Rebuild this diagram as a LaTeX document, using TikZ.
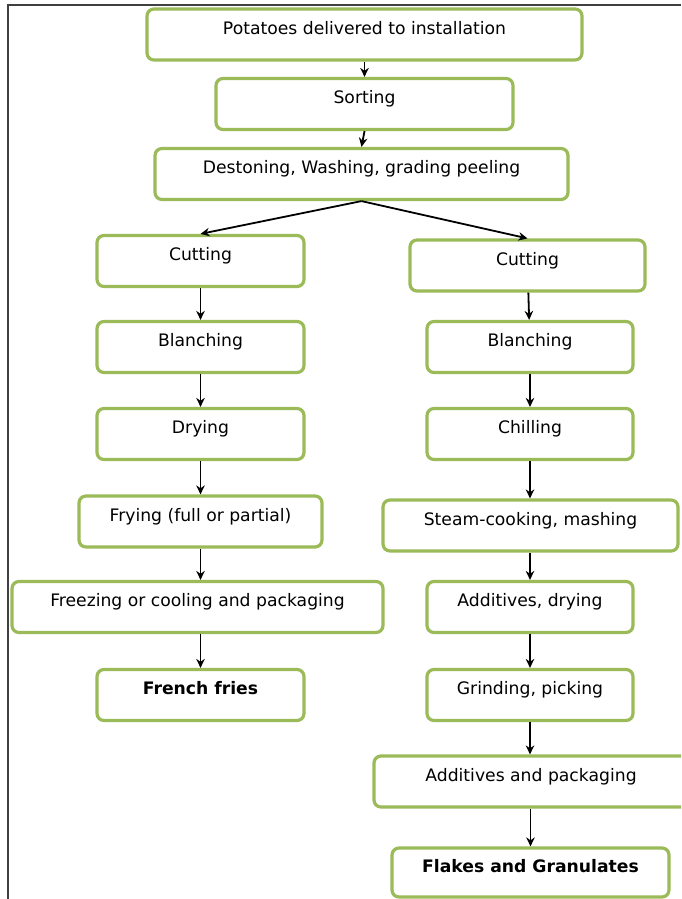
\documentclass[tikz,border=0pt]{standalone}
\usepackage{fontspec}
\setmainfont{DejaVu Sans}
\usetikzlibrary{arrows.meta}
\definecolor{boxgreen}{HTML}{9BBB59}
\definecolor{framegray}{HTML}{404040}
\begin{document}
\begin{tikzpicture}[x=1pt,y=-1pt,
  stepbox/.style={draw=boxgreen, line width=3.2pt, rounded corners=7pt, fill=white,
    minimum height=51pt, inner sep=0pt, text height=12pt, text depth=12.5pt,
    font=\fontsize{17.2}{19}\selectfont},
  flow/.style={-{Stealth[length=9pt,width=8.5pt]}, line width=1.8pt, black}]
\clip (0,0) rectangle (681,899);
\fill[white] (0,0) rectangle (681,899);
\draw[framegray, line width=1.8pt] (8,899) -- (8,5) -- (681,5);
% main trunk
\node[stepbox, minimum width=435pt] (pot) at (364.5,34.5) {Potatoes delivered to installation};
\node[stepbox, minimum width=297pt] (sort) at (364.5,104) {Sorting};
\node[stepbox, minimum width=413pt] (dest) at (361.5,174) {Destoning, Washing, grading peeling};
% left branch
\node[stepbox, minimum width=207pt] (cutL) at (200.5,261) {Cutting};
\node[stepbox, minimum width=207pt] (blaL) at (200.5,347) {Blanching};
\node[stepbox, minimum width=207pt] (dryL) at (200.5,434) {Drying};
\node[stepbox, minimum width=243pt] (fryL) at (200.5,521.5) {Frying (full or partial)};
\node[stepbox, minimum width=371pt] (frzL) at (197.5,607) {Freezing or cooling and packaging};
\node[stepbox, minimum width=207pt] (ffL) at (200.5,695) {\bfseries French fries};
% right branch
\node[stepbox, minimum width=235pt] (cutR) at (527.5,265.5) {Cutting};
\node[stepbox, minimum width=206pt] (blaR) at (530,347) {Blanching};
\node[stepbox, minimum width=206pt] (chiR) at (530,434) {Chilling};
\node[stepbox, minimum width=295pt] (stmR) at (530.5,525.5) {Steam-cooking, mashing};
\node[stepbox, minimum width=206pt] (addR) at (530,607) {Additives, drying};
\node[stepbox, minimum width=206pt] (grdR) at (530,695) {Grinding, picking};
\node[stepbox, minimum width=314pt] (apkR) at (531,781.5) {Additives and packaging};
\node[stepbox, minimum width=277pt, minimum height=49pt] (flkR) at (530.5,872.5) {\bfseries Flakes and Granulates};
% connectors
\draw[flow] (pot.south) -- (sort.north);
\draw[flow] (sort.south) -- (dest.north);
\draw[flow] (dest.south) -- (cutL.north);
\draw[flow] (dest.south) -- (cutR.north);
\draw[flow] (cutL) -- (blaL);
\draw[flow] (blaL) -- (dryL);
\draw[flow] (dryL) -- (fryL);
\draw[flow] (fryL) -- (frzL.north -| fryL.south);
\draw[flow] (frzL.south -| ffL.north) -- (ffL.north);
\draw[flow] (cutR) -- (blaR);
\draw[flow] (blaR) -- (chiR);
\draw[flow] (chiR) -- (stmR.north -| chiR.south);
\draw[flow] (stmR.south -| addR.north) -- (addR);
\draw[flow] (addR) -- (grdR);
\draw[flow] (grdR) -- (apkR.north -| grdR.south);
\draw[flow] (apkR.south -| flkR.north) -- (flkR);
\end{tikzpicture}
\end{document}
